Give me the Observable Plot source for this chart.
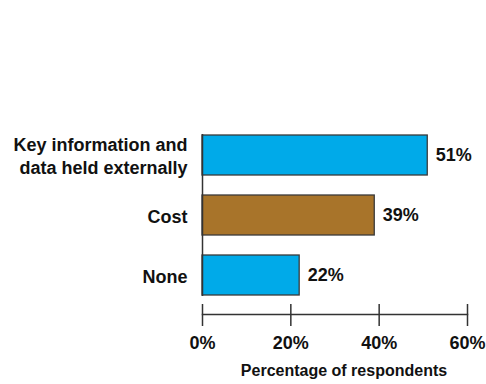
<!DOCTYPE html>
<html><head><meta charset="utf-8">
<script src="https://cdn.jsdelivr.net/npm/d3@7"></script>
<script src="https://cdn.jsdelivr.net/npm/@observablehq/plot@0.6"></script>
<style>body{margin:0;background:#fff} #chart svg{display:block}</style>
</head><body><div id="chart"></div>
<script>
const categories = ["Key information and\ndata held externally", "Cost", "None"];
const values = [51, 39, 22];
const barColors = ["#00aae9", "#a8742a", "#00aae9"];
const xTicks = [0, 20, 40, 60];
const xTitle = "Percentage of respondents";

const data = categories.map((c, i) => ({category: c, value: values[i], color: barColors[i]}));
const font = "'Liberation Sans', Arial, sans-serif";
const chart = Plot.plot({
  width: 486, height: 384,
  marginLeft: 202, marginRight: 19, marginTop: 134, marginBottom: 80,
  style: {fontFamily: font, fontSize: "18px", fontWeight: "bold", color: "#111", background: "#fff"},
  x: {domain: [0, 60], axis: null},
  y: {domain: categories, range: [134, 296], paddingInner: 0.33, paddingOuter: 0, axis: null},
  marks: [
    Plot.barX(data, {x: "value", y: "category", fill: "color", stroke: "#3a3a3a", strokeWidth: 1.3}),
    Plot.ruleX([0], {insetBottom: 8, stroke: "#333", strokeWidth: 1.5}),
    Plot.text(data, {y: "category", frameAnchor: "left", textAnchor: "end", dx: -15, text: "category", lineHeight: 1.28}),
    Plot.text(data, {x: "value", y: "category", text: d => d.value + "%", textAnchor: "start", dx: 8}),
    Plot.axisX({ticks: xTicks, tickSize: 22, tickPadding: 10, tickFormat: d => d + "%", label: null, stroke: "#333", strokeWidth: 1.5, fill: "#111"}),
    Plot.frame({anchor: "bottom", dy: 10, stroke: "#333", strokeWidth: 1.5}),
    Plot.text([xTitle], {frameAnchor: "bottom", dy: 71, dx: 9, fontSize: 16, text: d => d})
  ]
});
document.getElementById("chart").appendChild(chart);
</script>
</body></html>
